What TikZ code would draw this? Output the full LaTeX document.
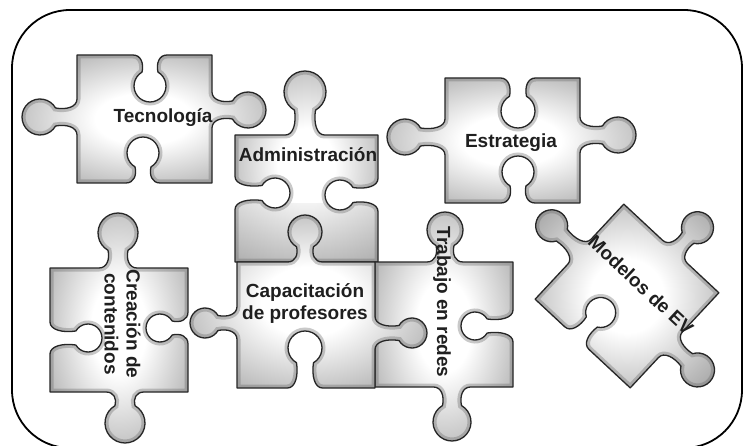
\documentclass[tikz,border=0pt]{standalone}
\usepackage{fontspec}
\setmainfont{Liberation Sans}

% radial fill of one piece: white in the middle, grey toward the knobs
\pgfdeclareradialshading{pzfill}{\pgfpoint{0bp}{0bp}}{%
  color(0bp)=(white); color(10bp)=(white); color(28bp)=(black!27);
  color(40bp)=(black!44); color(50bp)=(black!52)}

\tikzset{
  pzedge/.style={draw=black!85, line width=1.3, line join=round},
  pzshadow/.style={draw=black!60, line width=7, opacity=.35},
  pztext/.style={font=\bfseries\fontsize{19}{22}\selectfont, text=black!88,
                 inner sep=0, align=center},
  frame/.style={draw=black, line width=1.8, rounded corners=58}
}

% ---- outline of a jigsaw piece, collected in \pzpath -----------------
\newcommand\pzpath{}
\newcommand\pzadd[1]{\xdef\pzpath{\pzpath #1}}
% side spec: kind (1 tab, -1 hole, 0 flat) / position / head distance / head radius
\def\pzparse#1/#2/#3/#4\relax{\def\pzs{#1}\def\pzo{#2}\def\pzd{#3}\def\pzr{#4}}

% point (p,q) of the knob frame (p along the side, q outward) -> (\pzx,\pzy)
\newcommand\pzpt[2]{%
  \pgfmathsetmacro\pzx{\pzPx+(#1)*\pzux+(\pzs)*(#2)*\pzuy}%
  \pgfmathsetmacro\pzy{\pzPy+(#1)*\pzuy-(\pzs)*(#2)*\pzux}%
}

% knob centred on (#1,#2) of a side running along (#3,#4)
\newcommand\pzknob[5]{%
  \pzparse#5\relax
  \def\pzPx{#1}\def\pzPy{#2}\def\pzux{#3}\def\pzuy{#4}%
  \ifnum\pzs=0 \else
    \pgfmathsetmacro\pzw{0.5*\pzr}%
    \pgfmathsetmacro\pzh{sqrt(\pzr*\pzr-\pzw*\pzw)}%
    \pgfmathsetmacro\pzb{acos(\pzw/\pzr)}%
    \pgfmathsetmacro\pzq{\pzd-\pzh}%
    \pzpt{-\pzw-9}{0}\pzadd{ -- (\pzx,\pzy)}%
    \pzpt{-\pzw-1}{0}\edef\pzca{(\pzx,\pzy)}%
    \pzpt{-\pzw+2}{0.5*\pzq}\edef\pzcb{(\pzx,\pzy)}%
    \pzpt{-\pzw}{\pzq}\pzadd{ .. controls \pzca\space and \pzcb\space .. (\pzx,\pzy)}%
    \foreach \i in {1,...,24}{%
      \pgfmathsetmacro\pzt{180+\pzb-\i*(180+2*\pzb)/24}%
      \pzpt{\pzr*cos(\pzt)}{\pzd+\pzr*sin(\pzt)}\pzadd{ -- (\pzx,\pzy)}%
    }%
    \pzpt{\pzw-2}{0.5*\pzq}\edef\pzca{(\pzx,\pzy)}%
    \pzpt{\pzw+1}{0}\edef\pzcb{(\pzx,\pzy)}%
    \pzpt{\pzw+9}{0}\pzadd{ .. controls \pzca\space and \pzcb\space .. (\pzx,\pzy)}%
  \fi
}

% piece of half width #1 and half height #2; sides top, right, bottom, left
\newcommand\pzbuild[6]{%
  \gdef\pzpath{}%
  \def\pza{#1}\def\pzbb{#2}%
  \pgfmathsetmacro\pzna{-#1}\pgfmathsetmacro\pznb{-#2}%
  \pzadd{(\pzna,\pznb)}%
  \pzparse#3\relax \pzknob{\pzo}{\pznb}{1}{0}{#3}%
  \pzadd{ -- (\pza,\pznb)}%
  \pzparse#4\relax \pzknob{\pza}{\pzo}{0}{1}{#4}%
  \pzadd{ -- (\pza,\pzbb)}%
  \pzparse#5\relax \pzknob{\pzo}{\pzbb}{-1}{0}{#5}%
  \pzadd{ -- (\pzna,\pzbb)}%
  \pzparse#6\relax \pzknob{\pzna}{\pzo}{0}{-1}{#6}%
  \pzadd{ -- cycle}%
}

\newcommand\pzfill{\shade[shading=pzfill] \pzpath;}
\newcommand\pzedge{%
  \begin{scope}
    \clip \pzpath;
    \path[pzshadow] \pzpath;
  \end{scope}
  \path[pzedge] \pzpath;
}

\begin{document}
\begin{tikzpicture}[x=1pt, y=-1pt]
\useasboundingbox (0,0) rectangle (743,446);
\fill[white] (0,0) rectangle (743,446);

\draw[frame] (12,10) rectangle (742,448);

% Tecnologia
\begin{scope}[shift={(144.5,119)}]
  \pzbuild{67.5}{64}{-1/5.5/31/16}{1/-9/36/18}{-1/-1.5/30/16}{1/-2/37/18}
  \pzfill \pzedge
\end{scope}

% Estrategia
\begin{scope}[shift={(512.5,140.5)}]
  \pzbuild{67.5}{62.5}{-1/5.5/33/17}{1/-5.5/38/18}{-1/5.5/31/16}{1/-3.5/40/18}
  \pzfill \pzedge
\end{scope}

% Administracion, its lower half lying in shadow
\begin{scope}[shift={(306.5,198.5)}]
  \pzbuild{71.5}{63.5}{1/-1.5/43/21}{-1/-3.5/38/15}{0/0/0/0}{-1/-5.5/40/15}
  \pzfill
  \begin{scope}
    \clip \pzpath;
    \shade[top color=black!8, bottom color=black!30, opacity=.6]
      (-80,5) rectangle (80,70);
  \end{scope}
  \pzedge
\end{scope}

% Creacion de contenidos
\begin{scope}[shift={(119,330)}]
  \pzbuild{69}{62}{1/-1/35/20}{-1/-2/28/14}{1/6/31/20}{-1/8/38/14}
  \pzfill \pzedge
\end{scope}

% Trabajo en redes
\begin{scope}[shift={(444,324.5)}]
  \pzbuild{69}{62.5}{1/1/32/18}{-1/1.5/38/14}{1/8/35/19}{0/0/0/0}
  \pzfill \pzedge
\end{scope}

% Capacitacion de profesores
\begin{scope}[shift={(306,325)}]
  \pzbuild{69}{63}{1/-1/30/17}{1/8/37/15}{-1/-1/40/17}{1/-2/32/15}
  \pzfill \pzedge
\end{scope}

% Modelos de EV, turned on its corner
\begin{scope}[shift={(627,296)}, rotate=-43]
  \pzbuild{65}{65}{1/5/33/16}{1/6/37/17}{-1/-8/35/15}{1/0/38/16}
  \pzfill \pzedge
\end{scope}

\node[pztext] (tec) at (163,118) {Tecnología};
\node[pztext] (adm) at (308,155) {Administración};
\node[pztext] (est) at (511,143) {Estrategia};
\node[pztext, rotate=-90] (cre) at (122.5,324) {Creación de\\contenidos};
\node[pztext] (cap) at (305,304) {Capacitación\\de profesores};
\node[pztext, rotate=-90] (tra) at (442,302) {Trabajo en redes};
\node[pztext, rotate=-43] (mod) at (641,285) {Modelos de EV};
\end{tikzpicture}
\end{document}
